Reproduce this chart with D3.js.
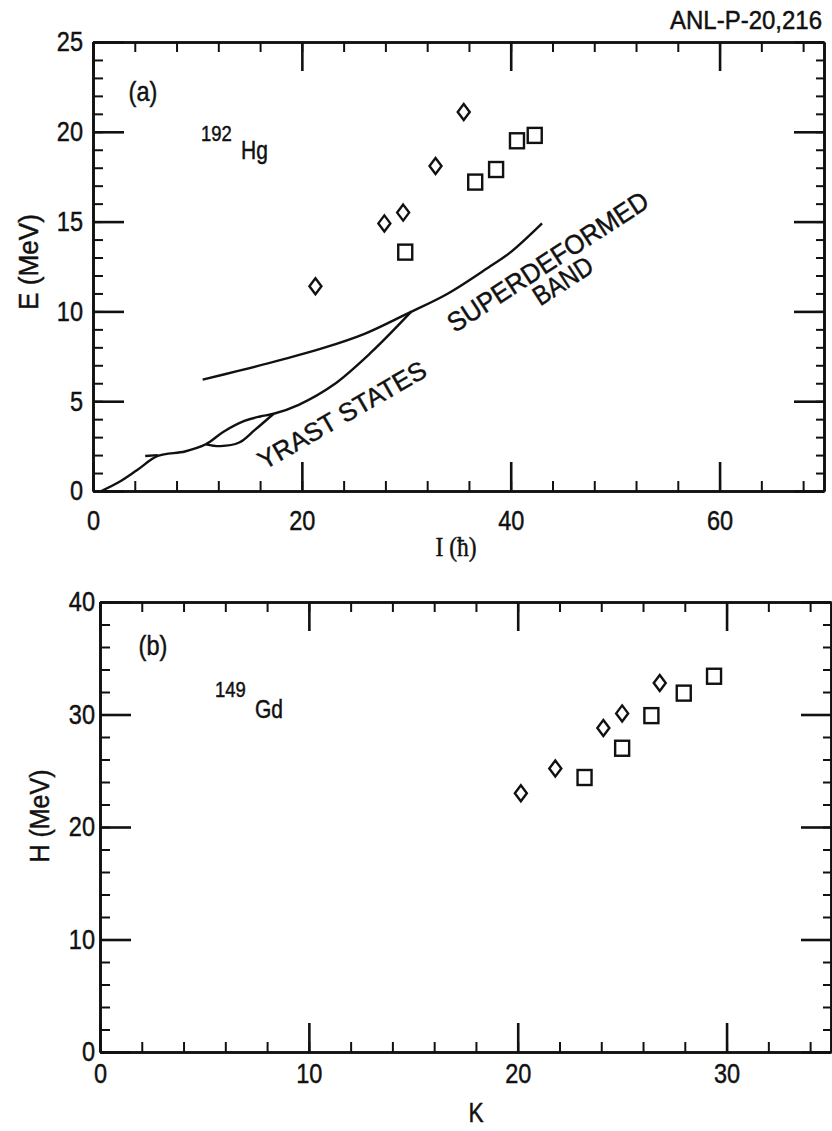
<!DOCTYPE html>
<html>
<head>
<meta charset="utf-8">
<script src="https://cdn.jsdelivr.net/npm/d3@7"></script>
<style>
  body { margin: 0; background: #fff; }
  svg text { font-family: "Liberation Sans", Arial, Helvetica, sans-serif; fill: #111; stroke: #111; stroke-width: 0.45; }
  .axis path, .axis line { stroke: #111; }
  svg text.serif { font-family: "Liberation Serif", "DejaVu Serif", serif; }
</style>
</head>
<body>
<svg id="chart" width="832" height="1131"></svg>
<script>
// ---- panel (a): 192Hg, E vs I ----
const hgDiamondI = [21.3, 27.9, 29.7, 32.8, 35.5];
const hgDiamondE = [11.4, 14.9, 15.5, 18.1, 21.1];
const hgSquareI = [29.9, 36.6, 38.6, 40.6, 42.3];
const hgSquareE = [13.3, 17.2, 17.9, 19.5, 19.8];

const sdBandI = [10.5, 14, 18, 22, 26, 30, 34, 38, 40, 43];
const sdBandE = [6.2, 6.7, 7.3, 7.95, 8.75, 9.85, 11.0, 12.5, 13.3, 14.9];

const yrastI = [0.8, 2.5, 4.2, 6.2, 8.8, 10.8, 12.5, 14.5, 16, 17.3, 19.7, 23, 26.6, 30.5];
const yrastE = [0, 0.5, 1.15, 1.95, 2.2, 2.6, 3.3, 3.9, 4.15, 4.3, 4.8, 5.9, 7.7, 10.0];
const yrastLoopI = [10.8, 12.2, 14, 15.5, 17.3];
const yrastLoopE = [2.6, 2.5, 2.7, 3.4, 4.3];
const yrastStubI = [5.0, 6.2];
const yrastStubE = [1.95, 2.0];

const aMajorX = [0, 20, 40, 60];
const aMinorX = d3.range(0, 71, 4);
const aMajorY = [0, 5, 10, 15, 20, 25];
const aMinorY = d3.range(0, 26, 1);

// ---- panel (b): 149Gd, H vs K ----
const gdDiamondK = [20.15, 21.8, 24.1, 25.0, 26.8];
const gdDiamondH = [23.0, 25.2, 28.8, 30.1, 32.8];
const gdSquareK = [23.2, 25.0, 26.4, 27.95, 29.4];
const gdSquareH = [24.4, 27.0, 29.9, 31.9, 33.4];

const bMajorX = [0, 10, 20, 30];
const bMinorX = d3.range(0, 36, 2);
const bMajorY = [0, 10, 20, 30, 40];
const bMinorY = d3.range(0, 41, 2);

const svg = d3.select("#chart");

const xa = d3.scaleLinear().domain([0, 70]).range([93, 824]);
const ya = d3.scaleLinear().domain([0, 25]).range([491, 42]);
const xb = d3.scaleLinear().domain([0, 35]).range([100, 831]);
const yb = d3.scaleLinear().domain([0, 40]).range([1052, 602]);

function frame(x, y, majX, minX, majY, minY, padX, padY) {
  const g = svg.append("g");
  const [x0, x1] = x.range();
  const [y0, y1] = y.range();
  const none = () => "";
  const fmt = d3.format("d");

  // minor ticks
  g.append("g").attr("class", "axis").attr("transform", `translate(0,${y0})`)
    .call(d3.axisBottom(x).tickValues(minX).tickSize(-10).tickSizeOuter(0).tickFormat(none));
  g.append("g").attr("class", "axis").attr("transform", `translate(0,${y1})`)
    .call(d3.axisTop(x).tickValues(minX).tickSize(-10).tickSizeOuter(0).tickFormat(none));
  g.append("g").attr("class", "axis").attr("transform", `translate(${x0},0)`)
    .call(d3.axisLeft(y).tickValues(minY).tickSize(-10).tickSizeOuter(0).tickFormat(none));
  g.append("g").attr("class", "axis").attr("transform", `translate(${x1},0)`)
    .call(d3.axisRight(y).tickValues(minY).tickSize(-8).tickSizeOuter(0).tickFormat(none));

  // major ticks + labels
  g.append("g").attr("class", "axis major").attr("transform", `translate(0,${y0})`)
    .call(d3.axisBottom(x).tickValues(majX).tickSize(-29).tickSizeOuter(0).tickPadding(padX).tickFormat(fmt));
  g.append("g").attr("class", "axis major").attr("transform", `translate(0,${y1})`)
    .call(d3.axisTop(x).tickValues(majX).tickSize(-29).tickSizeOuter(0).tickFormat(none));
  g.append("g").attr("class", "axis major").attr("transform", `translate(${x0},0)`)
    .call(d3.axisLeft(y).tickValues(majY).tickSize(-31).tickSizeOuter(0).tickPadding(padY).tickFormat(fmt));
  g.append("g").attr("class", "axis major").attr("transform", `translate(${x1},0)`)
    .call(d3.axisRight(y).tickValues(majY).tickSize(-30).tickSizeOuter(0).tickFormat(none));

  g.selectAll(".axis line").attr("stroke-width", 2);
  g.selectAll(".axis.major line").attr("stroke-width", 2.6);
  g.selectAll(".axis path").attr("stroke-width", 2.6);
  g.selectAll(".axis text").attr("font-size", 28).attr("fill", "#111")
    .attr("font-family", "\"Liberation Sans\", Arial, sans-serif");
  return g;
}

frame(xa, ya, aMajorX, aMinorX, aMajorY, aMinorY, 19, 10);
frame(xb, yb, bMajorX, bMinorX, bMajorY, bMinorY, 11, 5);

function drawPoints(x, y, dI, dE, sI, sE) {
  const g = svg.append("g").attr("fill", "none").attr("stroke", "#111").attr("stroke-width", 2.4);
  g.selectAll("path.dia").data(d3.zip(dI, dE)).join("path").attr("class", "dia")
    .attr("d", d => {
      const cx = x(d[0]), cy = y(d[1]);
      return `M${cx},${cy - 8}L${cx + 6},${cy}L${cx},${cy + 8}L${cx - 6},${cy}Z`;
    });
  g.selectAll("rect").data(d3.zip(sI, sE)).join("rect")
    .attr("x", d => x(d[0]) - 7).attr("y", d => y(d[1]) - 7.5)
    .attr("width", 14).attr("height", 15);
}

drawPoints(xa, ya, hgDiamondI, hgDiamondE, hgSquareI, hgSquareE);
drawPoints(xb, yb, gdDiamondK, gdDiamondH, gdSquareK, gdSquareH);

// curves in panel (a)
const lineA = d3.line().x(d => xa(d[0])).y(d => ya(d[1])).curve(d3.curveCatmullRom);
const curves = svg.append("g").attr("fill", "none").attr("stroke", "#111").attr("stroke-width", 2.4);
[[sdBandI, sdBandE], [yrastI, yrastE], [yrastLoopI, yrastLoopE], [yrastStubI, yrastStubE]]
  .forEach(([a, b]) => curves.append("path").attr("d", lineA(d3.zip(a, b))));

// text
function label(txt, x, y, size, opts = {}) {
  const t = svg.append("text").attr("x", x).attr("y", y).attr("font-size", size).text(txt);
  if (opts.anchor) t.attr("text-anchor", opts.anchor);
  if (opts.rotate) t.attr("transform", `rotate(${opts.rotate},${x},${y})`);
  if (opts.len) t.attr("textLength", opts.len).attr("lengthAdjust", "spacingAndGlyphs");
  if (opts.mid) t.attr("dominant-baseline", "central");
  return t;
}

label("ANL-P-20,216", 822, 29, 25, { anchor: "end", len: 152 });

label("(a)", 143, 101, 28, { anchor: "middle" });
label("192", 201, 141, 22);
label("Hg", 241, 159, 25);
label("E (MeV)", 29, 262, 27, { anchor: "middle", rotate: -90, mid: true, len: 96 });
label("I (ħ)", 456, 556, 28, { anchor: "middle" }).attr("class", "serif");

label("SUPERDEFORMED", 548, 262, 27, { anchor: "middle", rotate: -33, len: 234, mid: true });
label("BAND", 563, 281, 27, { anchor: "middle", rotate: -33, len: 66, mid: true });
label("YRAST STATES", 342, 415, 26, { anchor: "middle", rotate: -30, len: 190, mid: true });

label("(b)", 153, 655, 28, { anchor: "middle" });
label("149", 215, 697, 22);
label("Gd", 255, 718, 25);
label("H (MeV)", 40, 816, 27, { anchor: "middle", rotate: -90, mid: true, len: 93 });
label("K", 476, 1122, 27, { anchor: "middle" });

// condense the remaining text, the original lettering is narrow
svg.selectAll("text").each(function () {
  if (this.hasAttribute("textLength")) return;
  const w = this.getComputedTextLength();
  if (w > 0) d3.select(this).attr("textLength", w * 0.84).attr("lengthAdjust", "spacingAndGlyphs");
});
</script>
</body>
</html>
